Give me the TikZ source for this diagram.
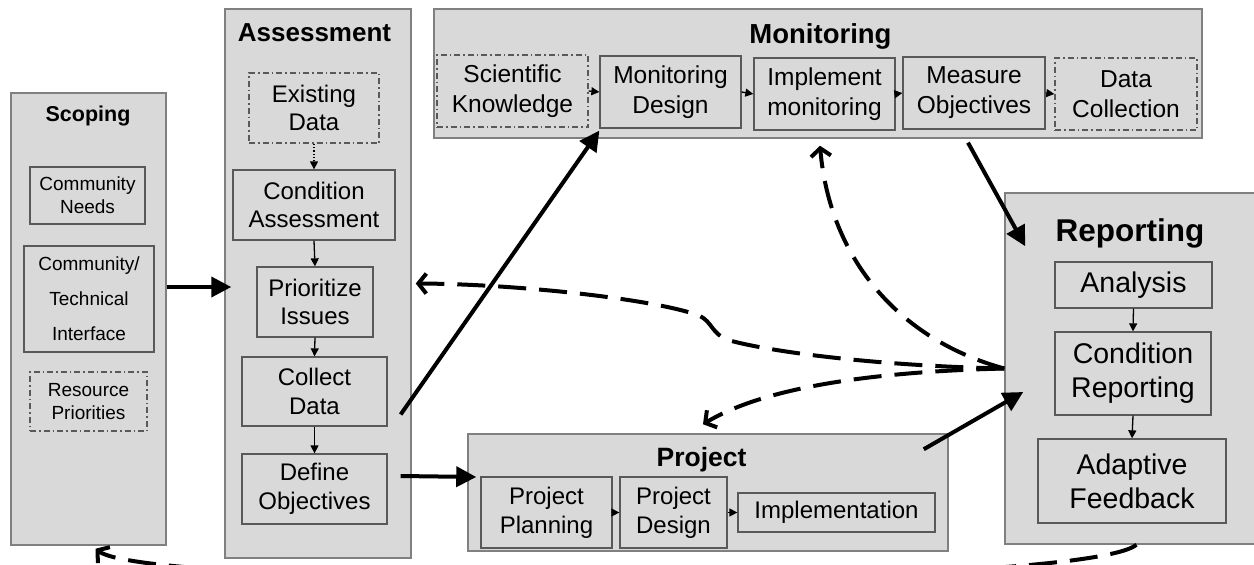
\documentclass[tikz,border=0pt]{standalone}
\usepackage{fontspec}
\setmainfont{Liberation Sans}
\usetikzlibrary{arrows.meta}

\begin{document}
\begin{tikzpicture}
  [x=1pt,y=-1pt,
    stage/.style={draw=black!50,fill=black!15,line width=1.5pt},
    box/.style={draw=black!65,fill=black!15,line width=1.3pt,align=center,inner sep=0pt},
    optional/.style={box,dash pattern=on 6pt off 3pt on 1.5pt off 3pt},
    title/.style={anchor=base},
    big/.style={line width=4pt,-{Triangle[length=20pt,width=20pt]}},
    small/.style={line width=1.3pt,-{Triangle[length=8pt,width=8pt]}},
    back/.style={line width=4pt,dash pattern=on 28pt off 13pt,-{Straight Barb[length=8pt,width=20pt]}}]
  \path[use as bounding box,clip] (0,0) rectangle (1254,565);
  % stages
  \node[stage,minimum width=155pt,minimum height=452pt] (Scoping) at (88.5,319) {};
  \node[stage,minimum width=186pt,minimum height=549pt] (Assessment) at (318,283.5) {};
  \node[stage,minimum width=768pt,minimum height=129pt] (Monitoring) at (818,73.5) {};
  \node[stage,minimum width=251pt,minimum height=351pt] (Reporting) at (1130.5,368.5) {};
  \node[stage,minimum width=480pt,minimum height=117pt] (Project) at (708,492.5) {};

  \node[title,font=\bfseries\fontsize{21.5}{26}\selectfont] (ScopingTitle) at (88,121) {Scoping};
  \node[title,font=\bfseries\fontsize{26}{30}\selectfont] (AssessmentTitle) at (314.5,41) {Assessment};
  \node[title,font=\bfseries\fontsize{27.5}{32}\selectfont] (MonitoringTitle) at (820.5,43) {Monitoring};
  \node[title,font=\bfseries\fontsize{31.5}{36}\selectfont] (ReportingTitle) at (1130,241) {Reporting};
  \node[title,font=\bfseries\fontsize{26.5}{30}\selectfont] (ProjectTitle) at (701.5,466) {Project};

  % scoping
  \node[box,font=\fontsize{19}{23}\selectfont,minimum width=115pt,minimum height=57pt] (CommNeeds) at (87.5,195.5) {Community\\Needs};
  \node[box,font=\fontsize{19}{35}\selectfont,minimum width=130pt,minimum height=106pt] (Interface) at (89,299) {Community/\\Technical\\Interface};
  \node[optional,font=\fontsize{19}{23}\selectfont,minimum width=117pt,minimum height=59pt] (ResPrio) at (88.5,401.5) {Resource\\Priorities};

  % assessment
  \node[optional,font=\fontsize{24}{28.5}\selectfont,minimum width=130pt,minimum height=70pt] (ExistData) at (314,108) {Existing\\Data};
  \node[box,font=\fontsize{24}{28.5}\selectfont,minimum width=162pt,minimum height=70pt] (CondAssess) at (314,205) {Condition\\Assessment};
  \node[box,font=\fontsize{24}{28.5}\selectfont,minimum width=116pt,minimum height=70pt] (PrioIssues) at (315,302) {Prioritize\\Issues};
  \node[box,font=\fontsize{24}{28.5}\selectfont,minimum width=145pt,minimum height=69pt] (CollectData) at (314.5,391.5) {Collect\\Data};
  \node[box,font=\fontsize{24}{28.5}\selectfont,minimum width=145pt,minimum height=70pt] (DefObj) at (314.5,489) {Define\\Objectives};

  % monitoring
  \node[optional,font=\fontsize{24.5}{30}\selectfont,minimum width=151pt,minimum height=72pt] (SciKnow) at (512.5,91) {Scientific\\Knowledge};
  \node[box,font=\fontsize{24.5}{30}\selectfont,minimum width=141pt,minimum height=72pt] (MonDesign) at (670.5,92) {Monitoring\\Design};
  \node[box,font=\fontsize{24.5}{30}\selectfont,minimum width=141pt,minimum height=72pt] (ImplMon) at (824.5,94) {Implement\\monitoring};
  \node[box,font=\fontsize{24.5}{30}\selectfont,minimum width=142pt,minimum height=72pt] (MeasObj) at (974,93) {Measure\\Objectives};
  \node[optional,font=\fontsize{24.5}{30}\selectfont,minimum width=142pt,minimum height=72pt] (DataColl) at (1126,94) {Data\\Collection};

  % reporting
  \node[box,font=\fontsize{28.5}{34}\selectfont,minimum width=157pt,minimum height=46pt] (Analysis) at (1133.5,285) {Analysis};
  \node[box,font=\fontsize{28.5}{34}\selectfont,minimum width=156pt,minimum height=83pt] (CondRep) at (1133,373.5) {Condition\\Reporting};
  \node[box,font=\fontsize{28.5}{34}\selectfont,minimum width=188pt,minimum height=84pt] (AdaptFb) at (1132,481) {Adaptive\\Feedback};

  % project
  \node[box,font=\fontsize{24}{29}\selectfont,minimum width=131pt,minimum height=71pt] (ProjPlan) at (546.5,512.5) {Project\\Planning};
  \node[box,font=\fontsize{24}{29}\selectfont,minimum width=107pt,minimum height=71pt] (ProjDesign) at (673.5,512.5) {Project\\Design};
  \node[box,font=\fontsize{24}{29}\selectfont,minimum width=197pt,minimum height=39pt] (Implementation) at (836.5,512.5) {Implementation};

  % steps inside the stages
  \draw[small,dotted] (ExistData.south) -- (CondAssess.north);
  \draw[small] (CondAssess.south) -- (PrioIssues.north);
  \draw[small] (PrioIssues.south) -- (CollectData.north);
  \draw[small] (CollectData.south) -- (DefObj.north);
  \draw[small] (SciKnow.east) -- (MonDesign.west);
  \draw[small] (MonDesign.east) -- (ImplMon.west);
  \draw[small] (ImplMon.east) -- (MeasObj.west);
  \draw[small] (MeasObj.east) -- (DataColl.west);
  \draw[small] (Analysis.south) -- (CondRep.north);
  \draw[small] (CondRep.south) -- (AdaptFb.north);
  \draw[small] (ProjPlan.east) -- (ProjDesign.west);
  \draw[small] (ProjDesign.east) -- (Implementation.west);

  % flow between stages
  \draw[big] (Scoping.east |- 0,287) -- ([xshift=7pt]Assessment.west |- 0,287);
  \draw[big] ([xshift=13pt,yshift=-23pt]CollectData.east) -- ([yshift=-2pt]MonDesign.south west);
  \draw[big] ([xshift=13pt,yshift=13pt]DefObj.east) -- ([xshift=9pt]Project.west |- 0,477);
  \draw[big] ([xshift=-6pt,yshift=-13pt]MeasObj.south) -- ([xshift=21pt,yshift=-54pt]Reporting.north west);
  \draw[big] ([xshift=-25pt,yshift=-16pt]Project.north east) -- ([xshift=19pt,yshift=-23.5pt]Reporting.west);

  % feedback
  \draw[back] (Reporting.west) .. controls (880,366) and (770,352) .. (728,340)
    .. controls (712,334) and (712,322) .. (700,316)
    .. controls (660,300) and (520,284) .. ([xshift=4pt]Assessment.east);
  \draw[back] (Reporting.west) .. controls (900,340) and (830,260) .. ([xshift=2pt,yshift=-7pt]Monitoring.south);
  \draw[back] (Reporting.west) .. controls (860,372) and (760,390) .. ([xshift=-5pt,yshift=9pt]Project.north);
  \draw[back] ([xshift=6pt]Reporting.south) .. controls (1080,590) and (150,590) .. ([xshift=7pt,yshift=-3pt]Scoping.south);
\end{tikzpicture}
\end{document}
